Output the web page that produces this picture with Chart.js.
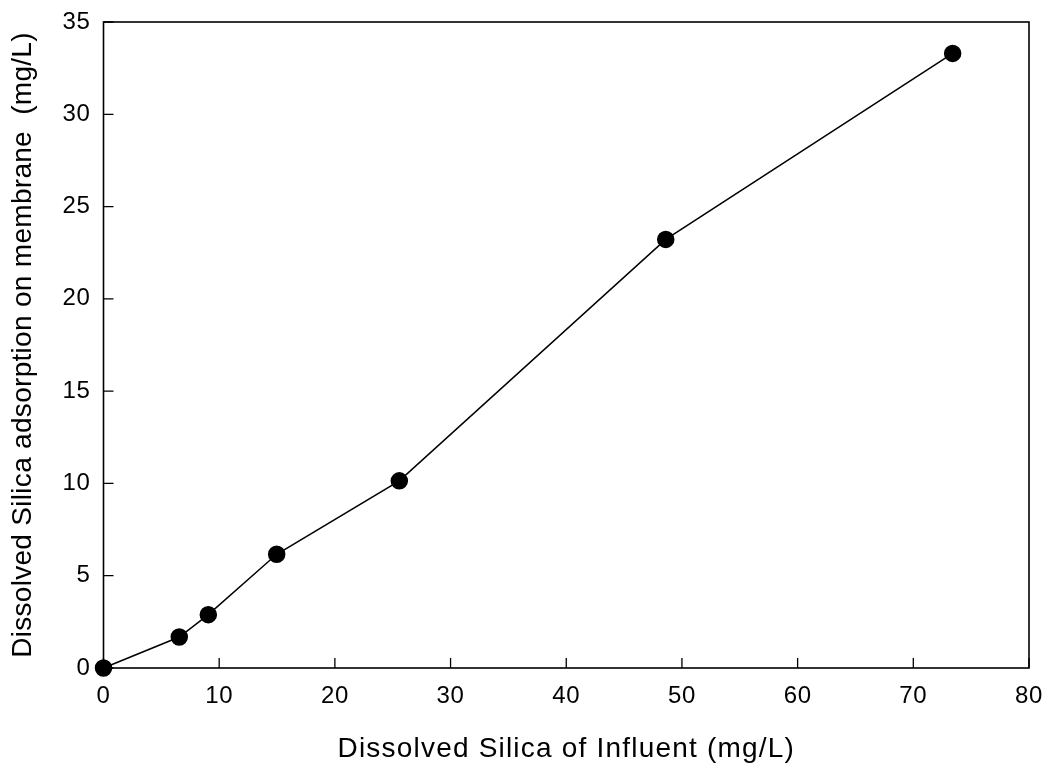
<!DOCTYPE html>
<html>
<head>
<meta charset="utf-8">
<script src="https://cdn.jsdelivr.net/npm/chart.js@4/dist/chart.umd.min.js"></script>
<style>
  html, body { margin: 0; padding: 0; background: #fff; }
  #wrap { width: 1047px; height: 769px; position: relative; }
</style>
</head>
<body>
<div id="wrap"><canvas id="c" width="1047" height="769"></canvas></div>
<script>
const influentSilica = [0, 6.55, 9.06, 14.97, 25.57, 48.6, 73.4];
const adsorbedSilica = [0, 1.68, 2.89, 6.16, 10.14, 23.22, 33.3];
const xTicks = [0, 10, 20, 30, 40, 50, 60, 70, 80];
const yTicks = [0, 5, 10, 15, 20, 25, 30, 35];
const xTitle = 'Dissolved Silica of Influent (mg/L)';
const yTitle = 'Dissolved Silica adsorption on membrane  (mg/L)';

const FONT = "'Liberation Sans', Arial, sans-serif";

const textSpacing = {
  id: 'textSpacing',
  beforeDraw(chart) {
    const ctx = chart.ctx;
    if (ctx.__patched) return;
    const orig = ctx.fillText.bind(ctx);
    ctx.fillText = function (text, x, y, maxWidth) {
      const prev = ctx.letterSpacing;
      if (text === xTitle) ctx.letterSpacing = '1.2px';
      else if (text === yTitle) ctx.letterSpacing = '0.3px';
      else ctx.letterSpacing = '0.6px';
      orig(text, x, y);
      ctx.letterSpacing = prev;
    };
    ctx.__patched = true;
  }
};

const frameAndTicks = {
  id: 'frameAndTicks',
  afterDraw(chart) {
    const { ctx, chartArea: a, scales } = chart;
    ctx.save();
    ctx.strokeStyle = '#000';
    ctx.lineWidth = 1.6;
    ctx.strokeRect(a.left, a.top, a.right - a.left, a.bottom - a.top);
    ctx.lineWidth = 1.3;
    ctx.beginPath();
    xTicks.forEach(v => {
      const px = scales.x.getPixelForValue(v);
      ctx.moveTo(px, a.bottom);
      ctx.lineTo(px, a.bottom - 10);
    });
    yTicks.forEach(v => {
      const py = scales.y.getPixelForValue(v);
      ctx.moveTo(a.left, py);
      ctx.lineTo(a.left + 10, py);
    });
    ctx.stroke();
    ctx.restore();
  }
};

new Chart(document.getElementById('c'), {
  type: 'scatter',
  data: {
    datasets: [{
      data: influentSilica.map((x, i) => ({ x, y: adsorbedSilica[i] })),
      showLine: true,
      borderColor: '#000',
      borderWidth: 1.5,
      backgroundColor: '#000',
      pointBackgroundColor: '#000',
      pointBorderColor: '#000',
      pointRadius: 8,
      pointHoverRadius: 8,
      tension: 0,
      clip: false
    }]
  },
  options: {
    responsive: false,
    animation: false,
    devicePixelRatio: 1,
    layout: { padding: { left: 0, right: 18, top: 22, bottom: 0 } },
    plugins: { legend: { display: false }, tooltip: { enabled: false } },
    scales: {
      x: {
        type: 'linear',
        min: 0, max: 80,
        afterBuildTicks(s) { s.ticks = xTicks.map(v => ({ value: v })); },
        afterFit(s) { s.height = 101; s.paddingLeft = 0; s.paddingRight = 0; },
        grid: { display: false, drawTicks: false },
        border: { display: false },
        ticks: { color: '#000', font: { family: FONT, size: 24 }, padding: 14, maxRotation: 0 },
        title: { display: true, text: xTitle, color: '#000', font: { family: FONT, size: 28 }, padding: { top: 0, bottom: 3 } }
      },
      y: {
        type: 'linear',
        min: 0, max: 35,
        afterBuildTicks(s) { s.ticks = yTicks.map(v => ({ value: v })); },
        afterFit(s) { s.width = 103.5; s.paddingTop = 0; s.paddingBottom = 0; },
        grid: { display: false, drawTicks: false },
        border: { display: false },
        ticks: { color: '#000', font: { family: FONT, size: 24 }, padding: 13 },
        title: { display: true, text: yTitle, color: '#000', font: { family: FONT, size: 28 }, padding: { top: 6, bottom: 0 } }
      }
    }
  },
  plugins: [textSpacing, frameAndTicks]
});
</script>
</body>
</html>
